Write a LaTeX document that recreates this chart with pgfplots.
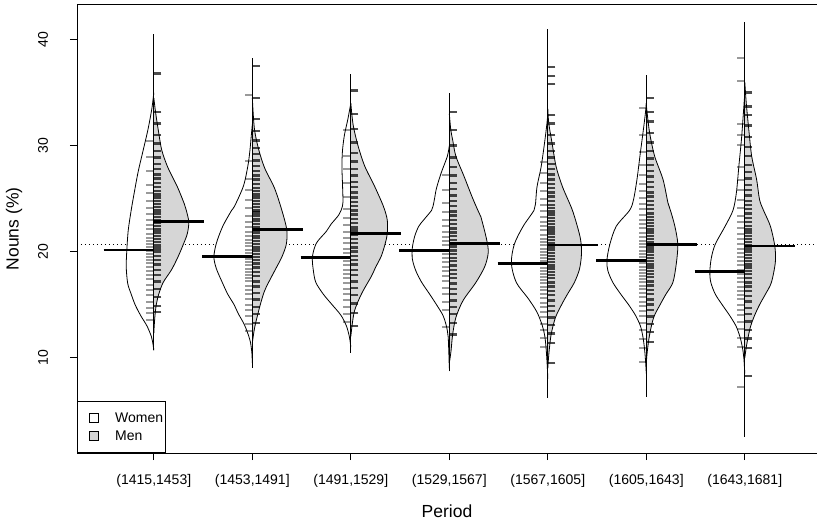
\documentclass[border=0pt]{standalone}
\usepackage{fontspec}
\setmainfont{Liberation Sans}
\usepackage{pgfplots}
\pgfplotsset{compat=1.18}
\usetikzlibrary{plotmarks}
\definecolor{beangray}{RGB}{214,214,214}
\pgfplotsset{
 rug/.style={only marks, mark=-, mark size=3.7bp, mark options={line width=2bp, draw=black, draw opacity=0.4}, forget plot},
 rugm/.style={only marks, mark=-, mark size=3.7bp, mark options={line width=2.4bp, draw=black, draw opacity=0.7}, forget plot},
 fem/.style={smooth, draw=black, line width=0.8bp, fill=white, forget plot},
 mal/.style={smooth, draw=black, line width=0.8bp, fill=beangray, forget plot},
 mline/.style={line width=2.8bp, black, forget plot},
 bline/.style={line width=0.8bp, black, forget plot},
}
\begin{document}
\begin{tikzpicture}
\useasboundingbox (-77bp,-70bp) rectangle (740bp,453bp);
\begin{axis}[
 scale only axis, width=740bp, height=448.3bp,
 xmin=0.22, xmax=7.733, ymin=1.01, ymax=43.3,
 xtick={1,2,3,4,5,6,7},
 xticklabels={{(1415,1453]},{(1453,1491]},{(1491,1529]},{(1529,1567]},{(1567,1605]},{(1605,1643]},{(1643,1681]}},
 ytick={10,20,30,40},
 tick pos=left, tick align=outside, major tick length=7bp,
 axis line style={line width=0.8bp},
 tick style={black, line width=0.8bp},
 /pgf/number format/assume math mode=true,
 tick label style={font=\fontsize{14bp}{16bp}\selectfont},
 xticklabel style={anchor=center, yshift=-21bp},
 yticklabel style={anchor=center, xshift=-27bp, rotate=90},
 xlabel={Period}, ylabel={Nouns (\%)},
 label style={font=\fontsize{17.5bp}{20bp}\selectfont},
 xlabel style={at={(axis description cs:0.5,-0.1294)}, anchor=center},
 ylabel style={at={(axis description cs:-0.0851,0.5)}, anchor=center},
 legend style={at={(0,0)}, anchor=south west, draw=black, line width=0.8bp,
   font=\fontsize{14bp}{16bp}\selectfont, inner xsep=0bp, inner ysep=9bp, row sep=3bp,
   cells={anchor=west, font=\fontsize{14bp}{16bp}\selectfont},
   /tikz/every odd column/.append style={column sep=14bp}},
 legend cell align=left,
 legend image code/.code={\path (0bp,0bp); \draw[#1, line width=0.6bp] (12bp,-4.5bp) rectangle (21bp,4.5bp);},
]
\addlegendimage{fill=white, draw=black}
\addlegendentry{Women}
\addlegendimage{fill=beangray, draw=black}
\addlegendentry{Men}

% overall mean
\addplot[forget plot, line width=0.7bp, dash pattern=on 1bp off 3bp] coordinates {(0.22,20.7) (7.733,20.7)};

% ---- bean 1
\addplot[fem] coordinates {(1,35) (0.98,33.5) (0.94,31.5) (0.89,29.5) (0.84,27.5) (0.80,25.5) (0.77,23.9) (0.74,22) (0.725,20) (0.72,18.5) (0.735,17) (0.77,16) (0.81,15) (0.865,14) (0.93,13) (0.975,12) (0.993,11.2) (1,10.7)};
\addplot[mal] coordinates {(1,34.5) (1.02,33) (1.05,31.2) (1.08,29.6) (1.14,28) (1.24,26.1) (1.31,24.5) (1.33,23.9) (1.355,22.8) (1.34,21.7) (1.30,20.7) (1.245,19.5) (1.18,18.3) (1.095,17.1) (1.05,16) (1.025,15) (1.012,14) (1.004,13) (1,12.3)};
% ---- bean 2
\addplot[fem] coordinates {(2,32) (1.99,31) (1.975,29.5) (1.955,28.1) (1.91,26.2) (1.82,24.3) (1.79,23.9) (1.70,22.4) (1.635,20.8) (1.61,19.5) (1.635,18.4) (1.695,17.1) (1.75,16) (1.815,15) (1.855,14.2) (1.915,13.2) (1.95,12.4) (1.98,11.5) (1.995,10.5) (2,9.5)};
\addplot[mal] coordinates {(2,34.5) (2.02,31.7) (2.06,29.8) (2.125,27.9) (2.225,26) (2.30,23.9) (2.35,22.07) (2.345,20.7) (2.30,19.5) (2.25,18.6) (2.165,17.1) (2.12,16.2) (2.075,14.8) (2.025,12.9) (2,11.4)};
% ---- bean 3
\addplot[fem] coordinates {(3,34) (2.97,32.5) (2.935,31) (2.915,29.5) (2.91,28) (2.915,26.5) (2.92,25) (2.915,24.3) (2.88,23.5) (2.80,22.6) (2.75,21.9) (2.65,20.8) (2.61,19.5) (2.62,18.2) (2.645,17.1) (2.72,16) (2.81,15) (2.90,14) (2.955,13) (2.985,12) (3,11)};
\addplot[mal] coordinates {(3,34) (3.023,32) (3.07,30.1) (3.14,28.1) (3.24,26.2) (3.33,24.3) (3.37,23) (3.37,21.7) (3.35,20.8) (3.31,19.6) (3.25,18.5) (3.21,17.7) (3.11,16.05) (3.04,14.5) (3.015,13.2) (3,12)};
% ---- bean 4
\addplot[fem] coordinates {(4,30) (3.98,29) (3.92,27.5) (3.87,26) (3.85,25) (3.835,24.3) (3.82,23.9) (3.74,23) (3.69,22.4) (3.65,21.5) (3.625,20.4) (3.625,19.3) (3.66,18.2) (3.72,17.1) (3.80,16) (3.87,15) (3.935,14) (3.97,13) (3.988,12) (3.995,10.5) (4,9)};
\addplot[mal] coordinates {(4,33) (4.015,31.5) (4.035,30.5) (4.067,29) (4.15,27.1) (4.23,25.2) (4.29,23.9) (4.32,23.3) (4.38,21.1) (4.395,19.9) (4.36,18.6) (4.27,17.1) (4.14,15.4) (4.067,13.8) (4.034,12.2) (4.017,10.6) (4,9.5)};
% ---- bean 5
\addplot[fem] coordinates {(5,33) (4.99,32) (4.966,30.2) (4.932,28) (4.89,26.1) (4.875,24.5) (4.86,23.9) (4.75,22.4) (4.66,20.7) (4.63,18.9) (4.68,17.1) (4.80,15.6) (4.89,14.3) (4.945,13) (4.97,12) (4.985,10.6) (4.995,9.1) (5,8)};
\addplot[mal] coordinates {(5,33.5) (5.01,32.1) (5.044,30.2) (5.085,28) (5.15,26.1) (5.25,23.9) (5.32,21.7) (5.34,20.6) (5.34,19.5) (5.32,18.3) (5.27,17.1) (5.20,16) (5.14,15) (5.078,13.8) (5.034,12.2) (5.01,10.3) (5,9)};
% ---- bean 6
\addplot[fem] coordinates {(6,34) (5.99,33) (5.966,31.2) (5.935,29) (5.905,26.8) (5.87,24.9) (5.83,23.9) (5.695,22.4) (5.63,20.7) (5.60,19.2) (5.61,18.2) (5.66,17.1) (5.74,16) (5.82,15) (5.89,14) (5.94,13) (5.965,12) (5.98,11) (5.99,10) (6,8.5)};
\addplot[mal] coordinates {(6,34) (6.005,33.4) (6.034,31.2) (6.085,29) (6.17,26.8) (6.22,24.6) (6.245,23.9) (6.29,22.4) (6.32,20.7) (6.305,18.9) (6.27,17.1) (6.20,16) (6.14,15) (6.075,13.8) (6.034,12.2) (6.01,10.6) (6,9.5)};
% ---- bean 7
\addplot[fem] coordinates {(7,35) (6.985,33) (6.966,30.6) (6.94,28.1) (6.915,25.6) (6.88,23.9) (6.80,22.4) (6.70,20.7) (6.66,19.4) (6.645,18.1) (6.655,17.1) (6.70,16) (6.77,15) (6.845,14) (6.91,13) (6.95,12) (6.975,11) (6.99,10) (7,8.5)};
\addplot[mal] coordinates {(7,36) (7.015,34) (7.044,31.2) (7.07,29) (7.12,26.8) (7.15,24.9) (7.19,23.9) (7.26,22.4) (7.305,20.5) (7.31,19) (7.27,17.1) (7.21,16) (7.15,15) (7.10,14) (7.06,13) (7.035,12) (7.015,11) (7,10)};

% ---- rugs
\addplot[rug] table[x expr=0.962, y index=0, header=false, row sep=\\] {30.4\\28.9\\27.6\\26.3\\25.5\\24.8\\24.1\\23.6\\23.0\\22.5\\22.1\\21.7\\21.3\\21.0\\20.7\\20.4\\20.1\\19.8\\19.5\\19.2\\18.9\\18.6\\18.2\\17.8\\17.4\\16.9\\16.4\\15.9\\15.3\\14.7\\14.2\\13.6\\};
\addplot[rugm] table[x expr=1.038, y index=0, header=false, row sep=\\] {36.8\\33.2\\32.1\\31.0\\30.2\\29.5\\28.9\\28.3\\27.8\\27.3\\26.9\\26.5\\26.1\\25.7\\25.4\\25.1\\24.8\\24.5\\24.2\\23.9\\23.6\\23.3\\23.0\\22.7\\22.4\\22.1\\21.8\\21.5\\21.2\\20.9\\20.6\\20.3\\20.0\\19.6\\19.2\\18.8\\18.3\\17.8\\17.2\\16.5\\15.7\\14.9\\14.3\\};
\addplot[rug] table[x expr=1.962, y index=0, header=false, row sep=\\] {34.8\\28.6\\26.9\\25.8\\24.9\\24.1\\23.4\\22.8\\22.3\\21.9\\21.5\\21.1\\20.8\\20.5\\20.2\\19.9\\19.6\\19.3\\19.0\\18.7\\18.4\\18.1\\17.8\\17.5\\17.2\\16.8\\16.4\\16.0\\15.5\\15.0\\14.5\\13.9\\13.2\\12.5\\};
\addplot[rugm] table[x expr=2.038, y index=0, header=false, row sep=\\] {37.5\\34.5\\32.5\\31.4\\30.5\\29.8\\29.2\\28.6\\28.1\\27.6\\27.2\\26.8\\26.4\\26.0\\25.7\\25.4\\25.1\\24.8\\24.5\\24.2\\23.9\\23.7\\23.4\\23.1\\22.9\\22.6\\22.3\\22.1\\21.8\\21.5\\21.3\\21.0\\20.7\\20.4\\20.1\\19.8\\19.5\\19.2\\18.9\\18.5\\18.1\\17.7\\17.2\\16.7\\16.1\\15.5\\14.8\\14.1\\13.3\\};
\addplot[rug] table[x expr=2.962, y index=0, header=false, row sep=\\] {31.5\\29.0\\27.8\\26.5\\25.2\\24.0\\23.2\\22.5\\21.9\\21.3\\20.8\\20.3\\19.9\\19.5\\19.1\\18.7\\18.3\\17.9\\17.5\\17.0\\16.5\\16.0\\15.4\\14.8\\14.1\\13.4\\};
\addplot[rugm] table[x expr=3.038, y index=0, header=false, row sep=\\] {35.2\\33.0\\31.6\\30.3\\29.3\\28.5\\27.8\\27.2\\26.6\\26.1\\25.6\\25.1\\24.7\\24.3\\23.9\\23.5\\23.1\\22.7\\22.3\\22.0\\21.6\\21.2\\20.8\\20.4\\20.0\\19.6\\19.2\\18.8\\18.3\\17.8\\17.2\\16.6\\15.9\\15.1\\14.2\\13.0\\};
\addplot[rug] table[x expr=3.962, y index=0, header=false, row sep=\\] {27.2\\25.8\\24.6\\23.7\\23.0\\22.4\\21.9\\21.4\\21.0\\20.6\\20.2\\19.8\\19.4\\19.0\\18.6\\18.2\\17.7\\17.2\\16.6\\16.0\\15.3\\14.5\\12.9\\};
\addplot[rugm] table[x expr=4.038, y index=0, header=false, row sep=\\] {33.2\\31.5\\30.0\\28.9\\28.0\\27.2\\26.5\\25.9\\25.3\\24.8\\24.3\\23.8\\23.4\\23.0\\22.6\\22.2\\21.8\\21.5\\21.1\\20.8\\20.5\\20.1\\19.8\\19.4\\19.1\\18.7\\18.3\\17.9\\17.5\\17.0\\16.5\\16.0\\15.4\\14.8\\14.1\\13.3\\12.2\\};
\addplot[rug] table[x expr=4.962, y index=0, header=false, row sep=\\] {28.5\\27.4\\26.5\\25.7\\25.0\\24.4\\23.8\\23.3\\22.8\\22.4\\22.0\\21.6\\21.2\\20.9\\20.6\\20.3\\20.0\\19.7\\19.4\\19.1\\18.8\\18.5\\18.2\\17.9\\17.6\\17.3\\17.0\\16.7\\16.4\\16.0\\15.6\\15.2\\14.8\\14.3\\13.8\\13.2\\12.6\\11.9\\11.0\\};
\addplot[rugm] table[x expr=5.038, y index=0, header=false, row sep=\\] {37.4\\36.6\\35.8\\32.9\\32.1\\31.0\\30.2\\29.5\\28.9\\28.3\\27.8\\27.3\\26.8\\26.4\\26.0\\25.6\\25.2\\24.8\\24.4\\24.1\\23.8\\23.5\\23.2\\22.9\\22.6\\22.3\\22.0\\21.7\\21.4\\21.1\\20.8\\20.5\\20.2\\19.9\\19.6\\19.3\\19.0\\18.7\\18.4\\18.1\\17.8\\17.5\\17.1\\16.7\\16.3\\15.9\\15.4\\14.9\\14.4\\13.8\\13.1\\12.3\\11.4\\9.5\\};
\addplot[rug] table[x expr=5.962, y index=0, header=false, row sep=\\] {33.6\\31.0\\29.4\\28.2\\27.2\\26.4\\25.7\\25.1\\24.5\\24.0\\23.5\\23.0\\22.6\\22.2\\21.8\\21.4\\21.0\\20.7\\20.4\\20.1\\19.8\\19.5\\19.2\\18.9\\18.6\\18.3\\18.0\\17.7\\17.4\\17.1\\16.8\\16.5\\16.1\\15.7\\15.3\\14.9\\14.4\\13.9\\13.3\\12.6\\11.8\\10.9\\9.6\\};
\addplot[rugm] table[x expr=6.038, y index=0, header=false, row sep=\\] {34.5\\33.2\\32.3\\31.2\\30.3\\29.5\\28.8\\28.2\\27.6\\27.1\\26.6\\26.1\\25.6\\25.2\\24.8\\24.4\\24.0\\23.6\\23.3\\23.0\\22.7\\22.4\\22.1\\21.8\\21.5\\21.2\\20.9\\20.6\\20.3\\20.0\\19.7\\19.4\\19.1\\18.8\\18.5\\18.2\\17.9\\17.6\\17.2\\16.8\\16.4\\16.0\\15.5\\15.0\\14.5\\13.9\\13.2\\12.4\\11.5\\};
\addplot[rug] table[x expr=6.962, y index=0, header=false, row sep=\\] {38.3\\36.1\\32.0\\31.0\\30.1\\28.0\\26.8\\25.8\\24.9\\24.1\\23.4\\22.8\\22.2\\21.7\\21.2\\20.7\\20.3\\19.9\\19.5\\19.1\\18.7\\18.3\\17.9\\17.5\\17.1\\16.7\\16.3\\15.9\\15.5\\15.0\\14.5\\14.0\\13.4\\12.7\\11.9\\11.0\\7.2\\};
\addplot[rugm] table[x expr=7.038, y index=0, header=false, row sep=\\] {35.0\\33.7\\32.9\\31.9\\30.8\\29.9\\29.0\\28.2\\27.5\\26.9\\26.3\\25.8\\25.3\\24.8\\24.4\\24.0\\23.6\\23.2\\22.8\\22.4\\22.1\\21.8\\21.5\\21.2\\20.9\\20.6\\20.3\\20.0\\19.7\\19.4\\19.1\\18.8\\18.5\\18.2\\17.9\\17.5\\17.1\\16.7\\16.3\\15.8\\15.3\\14.7\\14.1\\13.4\\12.6\\11.8\\10.9\\8.3\\};

% ---- bean lines (vertical)
\addplot[bline] coordinates {(1,10.7) (1,40.5)};
\addplot[bline] coordinates {(2,9.05) (2,38.3)};
\addplot[bline] coordinates {(3,10.45) (3,36.8)};
\addplot[bline] coordinates {(4,8.7) (4,35.0)};
\addplot[bline] coordinates {(5,6.2) (5,41.0)};
\addplot[bline] coordinates {(6,6.3) (6,36.7)};
\addplot[bline] coordinates {(7,2.55) (7,41.7)};

% ---- means
\addplot[mline] coordinates {(0.49,20.16) (1,20.16)};
\addplot[mline] coordinates {(1,22.83) (1.51,22.83)};
\addplot[mline] coordinates {(1.49,19.53) (2,19.53)};
\addplot[mline] coordinates {(2,22.07) (2.51,22.07)};
\addplot[mline] coordinates {(2.49,19.46) (3,19.46)};
\addplot[mline] coordinates {(3,21.7) (3.51,21.7)};
\addplot[mline] coordinates {(3.49,20.1) (4,20.1)};
\addplot[mline] coordinates {(4,20.76) (4.51,20.76)};
\addplot[mline] coordinates {(4.49,18.9) (5,18.9)};
\addplot[mline] coordinates {(5,20.63) (5.51,20.63)};
\addplot[mline] coordinates {(5.49,19.18) (6,19.18)};
\addplot[mline] coordinates {(6,20.68) (6.51,20.68)};
\addplot[mline] coordinates {(6.49,18.1) (7,18.1)};
\addplot[mline] coordinates {(7,20.54) (7.51,20.54)};
\end{axis}
\end{tikzpicture}
\end{document}
